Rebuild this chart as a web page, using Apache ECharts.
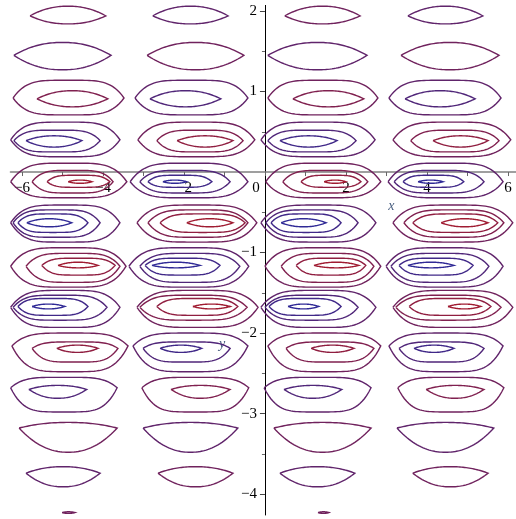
<!DOCTYPE html>
<html><head><meta charset="utf-8">
<script src="https://cdn.jsdelivr.net/npm/echarts@6/dist/echarts.min.js"></script>
<style>html,body{margin:0;padding:0;background:#fff}#c{width:516px;height:519px}</style>
</head><body><div id="c"></div>
<script>
// ---- axis ranges / ticks ----
const xMin = -2 * Math.PI, xMax = 2 * Math.PI;
const yMin = -4.26, yMax = 2.07;
const xTicks = [-6, -5, -4, -3, -2, -1, 0, 1, 2, 3, 4, 5, 6];
const xTickLabels = [-6, -4, -2, 0, 2, 4, 6];
const yTicks = [-4, -3, -2, -1, 1, 2];
const yMinorTicks = [-3.5, -2.5, -1.5, -0.5, 0.5, 1.5];
const yTickLabels = [-4, -3, -2, -1, 1, 2];

// ---- contour data (data units) ----
// sign of the field per row band (top to bottom) and per column band (left to right)
const rowSign = [1, -1, 1, -1, 1, -1, 1, -1, 1, -1, 1, -1, 1];
const colSign = [1, -1, 1, -1];
// per row: for each nesting depth [top, mid (end points), bottom]
const rowY = [
  [[2.06, 1.94, 1.84]],
  [[1.61, 1.45, 1.27]],
  [[1.14, 0.92, 0.71], [1.01, 0.91, 0.81]],
  [[0.62, 0.40, 0.19], [0.52, 0.39, 0.25], [0.45, 0.39, 0.31]],
  [[0.11, -0.12, -0.32], [0.02, -0.12, -0.26], [-0.04, -0.12, -0.19], [-0.10, -0.12, -0.14]],
  [[-0.41, -0.63, -0.87], [-0.47, -0.63, -0.81], [-0.52, -0.63, -0.75], [-0.58, -0.63, -0.68]],
  [[-0.94, -1.17, -1.43], [-1.01, -1.17, -1.37], [-1.07, -1.16, -1.28], [-1.12, -1.16, -1.19]],
  [[-1.47, -1.68, -1.93], [-1.53, -1.68, -1.84], [-1.57, -1.67, -1.78], [-1.64, -1.67, -1.70]],
  [[-2.00, -2.16, -2.48], [-2.11, -2.19, -2.36], [-2.15, -2.19, -2.24]],
  [[-2.55, -2.68, -2.98], [-2.65, -2.70, -2.81]],
  [[-3.11, -3.18, -3.48]],
  [[-3.66, -3.74, -3.91]],
  [[-4.22, -4.23, -4.24]]
];
// per column, per row: [left, right] for each nesting depth
const col1X = [
  [[-5.80, -3.93]],
  [[-6.20, -3.80]],
  [[-6.22, -3.48], [-5.63, -3.88]],
  [[-6.28, -3.58], [-6.20, -4.07], [-5.90, -4.52]],
  [[-6.28, -3.41], [-5.75, -3.75], [-5.38, -3.83], [-4.86, -4.27]],
  [[-6.28, -3.58], [-6.22, -4.07], [-6.10, -4.37], [-5.88, -4.77]],
  [[-6.28, -3.43], [-5.90, -3.58], [-5.51, -3.70], [-5.11, -4.12]],
  [[-6.28, -3.58], [-6.22, -3.90], [-6.10, -4.37], [-5.75, -4.94]],
  [[-6.25, -3.38], [-5.75, -3.63], [-5.14, -4.12]],
  [[-6.28, -3.65], [-5.83, -4.40]],
  [[-6.07, -3.65]],
  [[-5.90, -4.07]],
  [[-5.01, -4.69]]
];
const col2X = [
  [[-2.77, -0.91]],
  [[-2.91, -0.52]],
  [[-3.21, -0.42], [-2.84, -1.09]],
  [[-3.14, -0.25], [-2.67, -0.54], [-2.17, -0.79]],
  [[-3.33, -0.42], [-3.09, -0.86], [-2.89, -1.31], [-2.52, -1.93]],
  [[-3.16, -0.20], [-2.89, -0.42], [-2.59, -0.49], [-1.93, -0.79]],
  [[-3.36, -0.40], [-3.09, -0.62], [-2.96, -1.11], [-2.79, -1.60]],
  [[-3.16, -0.17], [-3.09, -0.44], [-2.67, -0.67], [-1.78, -0.86]],
  [[-3.26, -0.42], [-3.01, -0.86], [-2.59, -1.56]],
  [[-3.04, -0.40], [-2.32, -0.86]],
  [[-3.01, -0.67]],
  [[-2.64, -0.79]],
  []
];
const col3X = [
  [[0.49, 2.35]],
  [[0.07, 2.52]],
  [[0.07, 2.79], [0.69, 2.44]],
  [[-0.10, 2.72], [0.07, 2.25], [0.37, 1.78]],
  [[0.02, 2.86], [0.44, 2.54], [0.89, 2.37], [1.46, 2.00]],
  [[-0.10, 2.74], [0.02, 2.30], [0.15, 1.88], [0.40, 1.51]],
  [[0.00, 2.86], [0.40, 2.69], [0.77, 2.49], [1.21, 2.32]],
  [[-0.10, 2.74], [0.00, 2.30], [0.10, 1.88], [0.57, 1.33]],
  [[0.07, 2.86], [0.52, 2.69], [1.14, 2.20]],
  [[-0.02, 2.62], [0.47, 1.90]],
  [[0.22, 2.62]],
  [[0.37, 2.22]],
  [[1.31, 1.58]]
];
const col4X = [
  [[3.53, 5.38]],
  [[3.36, 5.78]],
  [[3.06, 5.83], [3.46, 5.19]],
  [[3.16, 6.07], [3.60, 5.78], [4.15, 5.51]],
  [[3.04, 5.88], [3.19, 5.41], [3.41, 4.91], [3.78, 4.40]],
  [[3.16, 6.12], [3.43, 5.90], [3.65, 5.75], [4.35, 5.51]],
  [[2.99, 5.88], [3.11, 5.53], [3.31, 5.14], [3.53, 4.67]],
  [[3.16, 6.12], [3.23, 5.83], [3.56, 5.58], [4.52, 5.33]],
  [[3.06, 5.88], [3.31, 5.41], [3.68, 4.67]],
  [[3.28, 5.90], [3.98, 5.41]],
  [[3.26, 5.65]],
  [[3.65, 5.51]],
  []
];
const columns = [col1X, col2X, col3X, col4X];

// ---- styling ----
const levelOrder = [-4, -3, -2, -1, 1, 2, 3, 4];
const blueRGB = [48, 42, 150], redRGB = [160, 28, 50];
function levelColor(L) {
  const t = levelOrder.indexOf(L) / 7;
  const c = blueRGB.map((b, i) => Math.round(b + (redRGB[i] - b) * t));
  return 'rgb(' + c.join(',') + ')';
}
function contourPath(xL, xR, yT, yM, yB, k) {
  const N = 48, pts = [];
  const cx = (xL + xR) / 2, a = (xR - xL) / 2;
  for (let i = 0; i <= N; i++) {
    const u = -1 + 2 * i / N;
    pts.push([cx + a * u, yM + (yT - yM) * (1 - Math.pow(Math.abs(u), k))]);
  }
  for (let i = N - 1; i >= 0; i--) {
    const u = -1 + 2 * i / N;
    pts.push([cx + a * u, yM - (yM - yB) * (1 - Math.pow(Math.abs(u), k))]);
  }
  return pts;
}
const lineData = [];
columns.forEach((col, c) => {
  col.forEach((depths, r) => {
    depths.forEach((ext, d) => {
      const yy = rowY[r][d];
      const level = rowSign[r] * colSign[c] * (d + 1);
      const inner = d === depths.length - 1;
      lineData.push({
        coords: contourPath(ext[0], ext[1], yy[0], yy[1], yy[2], inner ? 2.2 : 4.5),
        lineStyle: { color: levelColor(level) }
      });
    });
  });
});

const minus = v => (v < 0 ? '\u2212' + Math.abs(v) : String(v));
const labelFont = { fontFamily: 'Liberation Serif', fontSize: 15, color: '#000' };

const G = { left: 10.5, top: 5.4, width: 508.9, height: 509.6 };
// offsets that put each axis on the other's zero
const xZeroOffset = -(G.top + G.height - (G.top + (yMax / (yMax - yMin)) * G.height));
const yZeroOffset = -((-xMin / (xMax - xMin)) * G.width);

const chart = echarts.init(document.getElementById('c'), null, { renderer: 'canvas' });
chart.setOption({
  animation: false,
  backgroundColor: '#fff',
  grid: { ...G, containLabel: false, outerBoundsMode: 'none' },
  xAxis: {
    type: 'value', min: xMin, max: xMax, position: 'bottom', offset: xZeroOffset,
    axisLine: { onZero: false, lineStyle: { color: '#808080', width: 1.6 } },
    axisTick: { customValues: xTicks, length: 4, lineStyle: { color: '#666' } },
    axisLabel: {
      customValues: xTickLabels, margin: 9, ...labelFont,
      formatter: v => (v === 0 ? '{z|0}' : minus(v)),
      rich: { z: { ...labelFont, padding: [0, 18, 0, 0] } }
    },
    splitLine: { show: false }
  },
  yAxis: [{
    type: 'value', min: yMin, max: yMax, position: 'left', offset: yZeroOffset,
    axisLine: { onZero: false, lineStyle: { color: '#000', width: 1 } },
    axisTick: { customValues: yTicks, length: 5, lineStyle: { color: '#444' } },
    axisLabel: { customValues: yTickLabels, margin: 8, ...labelFont, formatter: minus },
    splitLine: { show: false }
  }, {
    type: 'value', min: yMin, max: yMax, position: 'left', offset: yZeroOffset,
    axisLine: { show: false, onZero: false },
    axisTick: { customValues: yMinorTicks, length: 3, lineStyle: { color: '#666' } },
    axisLabel: { show: false },
    splitLine: { show: false }
  }],
  series: [{
    type: 'lines',
    coordinateSystem: 'cartesian2d',
    polyline: true,
    silent: true,
    lineStyle: { width: 1.4, opacity: 1 },
    data: lineData
  }]
});
const px = chart.convertToPixel({ gridIndex: 0 }, [3.12, -0.42]);
const py = chart.convertToPixel({ gridIndex: 0 }, [-1.06, -2.14]);
chart.setOption({
  graphic: [
    { type: 'text', x: px[0], y: px[1], style: { text: 'x', font: 'italic 14px "Liberation Serif"', fill: '#4a5f80', align: 'center', verticalAlign: 'middle' } },
    { type: 'text', x: py[0], y: py[1], style: { text: 'y', font: 'italic 14px "Liberation Serif"', fill: '#4a5f80', align: 'center', verticalAlign: 'middle' } }
  ]
});
</script></body></html>
